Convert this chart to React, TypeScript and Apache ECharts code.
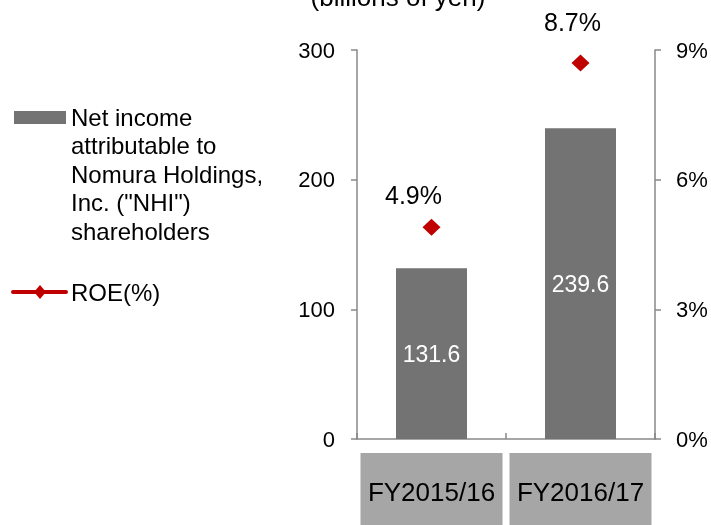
import React, { useEffect, useRef } from "react";
import * as echarts from "echarts";

const categories = ["FY2015/16", "FY2016/17"];
const netIncome = [131.6, 239.6];
const roe = [4.9, 8.7];
const leftAxis = { min: 0, max: 300, interval: 100 };
const rightAxis = { min: 0, max: 9, interval: 3 };
const unitTitle = "(billions of yen)";
const legendBarText = "Net income\nattributable to\nNomura Holdings,\nInc. (\"NHI\")\nshareholders";
const legendLineText = "ROE(%)";

// label placement tweaks (layout only)
const roeLabelOffsets = [
  [-18, 6],
  [-8, -3],
];

const FONT = "'Liberation Sans', Arial, sans-serif";
const AXIS_COLOR = "#898989";
const BAR_COLOR = "#737373";
const RED = "#c00000";

export default function App() {
  const ref = useRef<HTMLDivElement>(null);
  useEffect(() => {
    if (!ref.current) return;
    const chart = echarts.init(ref.current, undefined, { renderer: "svg" });
    const axisLine = { show: true, lineStyle: { color: AXIS_COLOR, width: 1.5 } };
    chart.setOption({
      animation: false,
      textStyle: { fontFamily: FONT },
      grid: { left: 357, right: 56, top: 50, bottom: 86, containLabel: false, outerBoundsMode: "none" },
      xAxis: {
        type: "category",
        data: categories,
        axisLine,
        axisTick: { show: true, inside: true, length: 6, lineStyle: { color: AXIS_COLOR, width: 1.5 } },
        axisLabel: {
          interval: 0,
          hideOverlap: false,
          margin: 14,
          fontSize: 26,
          color: "#000",
          fontFamily: FONT,
          backgroundColor: "#a6a6a6",
          width: 142,
          height: 78,
          lineHeight: 78,
          align: "center",
        },
        splitLine: { show: false },
      },
      yAxis: [
        {
          type: "value",
          position: "left",
          ...leftAxis,
          axisLine,
          axisTick: { show: true, length: 6, lineStyle: { color: AXIS_COLOR, width: 1.5 } },
          axisLabel: { margin: 22, fontSize: 22, color: "#000", fontFamily: FONT },
          splitLine: { show: false },
        },
        {
          type: "value",
          position: "right",
          ...rightAxis,
          axisLine,
          axisTick: { show: true, length: 6, lineStyle: { color: AXIS_COLOR, width: 1.5 } },
          axisLabel: { margin: 21, fontSize: 22, color: "#000", fontFamily: FONT, formatter: "{value}%" },
          splitLine: { show: false },
        },
      ],
      series: [
        {
          type: "bar",
          data: netIncome,
          barWidth: 71,
          itemStyle: { color: BAR_COLOR },
          label: {
            show: true,
            position: "inside",
            color: "#fff",
            fontSize: 23,
            fontFamily: FONT,
            formatter: (p: any) => Number(p.value).toFixed(1),
          },
        },
        {
          type: "line",
          yAxisIndex: 1,
          data: roe.map((v, i) => ({ value: v, label: { offset: roeLabelOffsets[i] } })),
          symbol: "diamond",
          symbolSize: [18, 17],
          itemStyle: { color: RED },
          lineStyle: { width: 0, opacity: 0 },
          label: {
            show: true,
            position: "top",
            distance: 17,
            color: "#000",
            fontSize: 25,
            fontFamily: FONT,
            formatter: (p: any) => Number(p.value).toFixed(1) + "%",
          },
        },
      ],
      graphic: [
        {
          type: "text",
          x: 398,
          y: 10,
          style: { text: unitTitle, font: `26px ${FONT}`, fill: "#000", align: "center", verticalAlign: "bottom" },
        },
        { type: "rect", shape: { x: 14, y: 111, width: 52, height: 13 }, style: { fill: BAR_COLOR } },
        {
          type: "text",
          x: 71,
          y: 103,
          style: {
            text: legendBarText,
            font: `24px ${FONT}`,
            lineHeight: 28.5,
            fill: "#000",
            align: "left",
            verticalAlign: "top",
          },
        },
        {
          type: "line",
          shape: { x1: 13, y1: 292, x2: 66, y2: 292 },
          style: { stroke: RED, lineWidth: 4, lineCap: "round" },
        },
        {
          type: "polygon",
          shape: { points: [[40, 285], [46, 292], [40, 299], [34, 292]] },
          style: { fill: RED },
        },
        {
          type: "text",
          x: 71,
          y: 292,
          style: { text: legendLineText, font: `24px ${FONT}`, fill: "#000", align: "left", verticalAlign: "middle" },
        },
      ],
    });
    return () => chart.dispose();
  }, []);
  return <div ref={ref} style={{ position: "fixed", left: 0, top: 0, width: 711, height: 525 }} />;
}
